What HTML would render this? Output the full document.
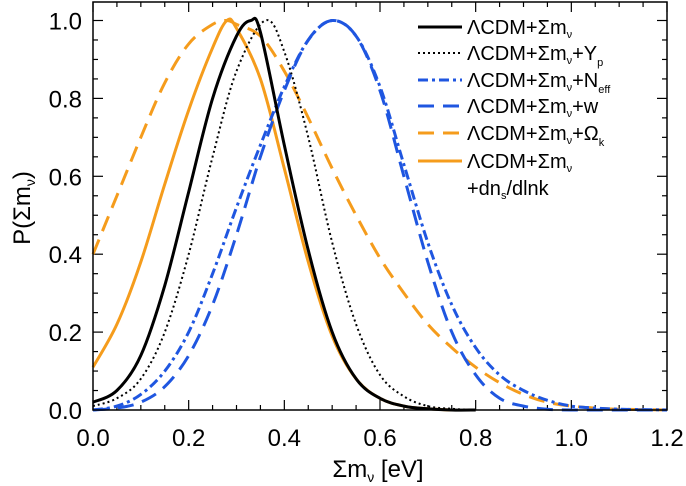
<!DOCTYPE html>
<html><head><meta charset="utf-8"><style>
body{margin:0;background:#fff;}
svg{display:block;font-family:"Liberation Sans",sans-serif;}
</style></head><body>
<svg id="chart" width="686" height="486" viewBox="0 0 686 486">
<g font-family="Liberation Sans, sans-serif" font-size="20">
 <line x1="418" y1="27" x2="462" y2="27" stroke="#000" stroke-width="3"/>
 <text x="467" y="34">ΛCDM+Σm<tspan font-size="11" dy="4">ν</tspan></text>
 <line x1="418" y1="53" x2="462" y2="53" stroke="#000" stroke-width="2" stroke-dasharray="2,3"/>
 <text x="467" y="60">ΛCDM+Σm<tspan font-size="11" dy="4">ν</tspan><tspan dy="-4">+Y</tspan><tspan font-size="11" dy="6">p</tspan></text>
 <line x1="418" y1="80" x2="462" y2="80" stroke="#1f56e0" stroke-width="3" stroke-dasharray="10,4,3,4"/>
 <text x="467" y="87">ΛCDM+Σm<tspan font-size="11" dy="4">ν</tspan><tspan dy="-4">+N</tspan><tspan font-size="11" dy="6">eff</tspan></text>
 <line x1="418" y1="106" x2="462" y2="106" stroke="#1f56e0" stroke-width="3" stroke-dasharray="16,9"/>
 <text x="467" y="113">ΛCDM+Σm<tspan font-size="11" dy="4">ν</tspan><tspan dy="-4">+w</tspan></text>
 <line x1="418" y1="133" x2="462" y2="133" stroke="#f59c1c" stroke-width="3" stroke-dasharray="16,9"/>
 <text x="467" y="140">ΛCDM+Σm<tspan font-size="11" dy="4">ν</tspan><tspan dy="-4">+Ω</tspan><tspan font-size="11" dy="6">k</tspan></text>
 <line x1="418" y1="161" x2="462" y2="161" stroke="#f59c1c" stroke-width="3"/>
 <text x="467" y="168">ΛCDM+Σm<tspan font-size="11" dy="4">ν</tspan></text>
 <text x="467" y="195">+dn<tspan font-size="11" dy="4">s</tspan><tspan dy="-4">/dlnk</tspan></text>
</g>
<text x="378" y="477" font-size="24" text-anchor="middle">Σm<tspan font-size="14" dy="5">ν</tspan><tspan dy="-5"> [eV]</tspan></text>
<text transform="translate(30,208) rotate(-90)" font-size="24" text-anchor="middle">P(Σm<tspan font-size="14" dy="5">ν</tspan><tspan dy="-5">)</tspan></text>
</svg>
<script>
const xsLcdm=[0,0.05,0.1,0.15,0.2,0.25,0.3,0.33,0.35,0.4,0.45,0.5,0.55,0.6,0.65,0.7,0.75,0.8];
const lcdm=[0.02,0.05,0.14,0.32,0.56,0.8,0.96,1.0,0.97,0.68,0.41,0.2,0.08,0.03,0.01,0.003,0,0];
const xsYp=[0,0.05,0.1,0.15,0.2,0.25,0.3,0.36,0.4,0.45,0.5,0.55,0.6,0.65,0.7,0.75,0.8];
const lcdmYp=[0.01,0.03,0.08,0.2,0.4,0.65,0.87,1.0,0.92,0.7,0.43,0.22,0.09,0.035,0.01,0.003,0];
const xsBlue=[0,0.05,0.1,0.15,0.2,0.25,0.3,0.35,0.4,0.45,0.5,0.55,0.6,0.65,0.7,0.75,0.8,0.85,0.9,0.95,1.0,1.05,1.1,1.15,1.2];
const lcdmNeff=[0,0.01,0.04,0.1,0.2,0.35,0.52,0.68,0.83,0.95,1.0,0.96,0.83,0.63,0.43,0.27,0.16,0.09,0.05,0.025,0.01,0.005,0.002,0.001,0];
const lcdmW=[0,0.005,0.02,0.06,0.14,0.27,0.45,0.65,0.82,0.95,1.0,0.96,0.82,0.6,0.38,0.2,0.09,0.03,0.01,0.002,0,0,0,0,0];
const xsOk=[0,0.05,0.1,0.15,0.2,0.25,0.28,0.3,0.35,0.4,0.45,0.5,0.55,0.6,0.65,0.7,0.75,0.8,0.85,0.9,0.95,1.0,1.05,1.1,1.2];
const lcdmOk=[0.4,0.55,0.7,0.84,0.94,0.99,1.0,0.99,0.96,0.87,0.75,0.62,0.5,0.39,0.3,0.22,0.16,0.11,0.07,0.04,0.02,0.01,0.005,0.002,0];
const xsRun=[0,0.05,0.1,0.15,0.2,0.25,0.28,0.3,0.35,0.4,0.45,0.5,0.55,0.6,0.65,0.7,0.75];
const lcdmRun=[0.11,0.22,0.38,0.58,0.77,0.93,1.0,0.98,0.85,0.62,0.38,0.19,0.08,0.03,0.01,0.003,0];
const xTicks=["0.0","0.2","0.4","0.6","0.8","1.0","1.2"];
const yTicks=["0.0","0.2","0.4","0.6","0.8","1.0"];

const L=93,R=667,T=2,B=410,Y1=20.5;
const X=v=>L+v/1.2*(R-L);
const Y=v=>B-v*(B-Y1);
const svg=document.getElementById('chart');
const NS="http://www.w3.org/2000/svg";
function mk(tag,attrs){const e=document.createElementNS(NS,tag);for(const k in attrs)e.setAttribute(k,attrs[k]);svg.appendChild(e);return e;}

for(let i=0;i<=24;i++){const v=i*0.05,x=X(v),len=(i%4===0)?10:5;
 const t1=mk('line',{x1:x,x2:x,y1:B,y2:B-len,stroke:'#000','stroke-width':1.2});
 
 
 const t2=mk('line',{x1:x,x2:x,y1:T,y2:T+len,stroke:'#000','stroke-width':1.2});
 
 }
for(let i=0;i<=21;i++){const v=i*0.05,y=Y(v),len=(i%4===0)?10:5;
 if(y<T)continue;
 const t1=mk('line',{x1:L,x2:L+len,y1:y,y2:y,stroke:'#000','stroke-width':1.2});
 
 
 const t2=mk('line',{x1:R,x2:R-len,y1:y,y2:y,stroke:'#000','stroke-width':1.2});
 
 }
xTicks.forEach((s,i)=>{const t=mk('text',{x:X(i*0.2),y:446,'font-size':24,'text-anchor':'middle'});t.textContent=s;
 
 });
yTicks.forEach((s,i)=>{const t=mk('text',{x:82,y:Y(i*0.2)+9,'font-size':24,'text-anchor':'end'});t.textContent=s;
 
 });

function smooth(pts){let d='M'+pts[0][0].toFixed(1)+','+pts[0][1].toFixed(1);
 for(let i=0;i<pts.length-1;i++){const p0=pts[Math.max(i-1,0)],p1=pts[i],p2=pts[i+1],p3=pts[Math.min(i+2,pts.length-1)];
  const c1=[p1[0]+(p2[0]-p0[0])/6,p1[1]+(p2[1]-p0[1])/6],c2=[p2[0]-(p3[0]-p1[0])/6,p2[1]-(p3[1]-p1[1])/6];
  d+='C'+c1.map(v=>v.toFixed(1)).join(',')+' '+c2.map(v=>v.toFixed(1)).join(',')+' '+p2[0].toFixed(1)+','+p2[1].toFixed(1);}
 return d;}
const series=[
 {x:xsRun,d:lcdmRun,c:'#f59c1c',w:3,da:'',n:'series-running'},
 {x:xsOk,d:lcdmOk,c:'#f59c1c',w:3,da:'16,9',n:'series-omega-k'},
 {x:xsBlue,d:lcdmW,c:'#1f56e0',w:3,da:'16,9',n:'series-w'},
 {x:xsBlue,d:lcdmNeff,c:'#1f56e0',w:3,da:'10,4,3,4',n:'series-neff'},
 {x:xsYp,d:lcdmYp,c:'#000',w:2,da:'2,3',n:'series-yp'},
 {x:xsLcdm,d:lcdm,c:'#000',w:3,da:'',n:'series-lcdm'}];
series.forEach(s=>{const pts=s.x.map((x,i)=>[X(x),Y(s.d[i])]);
 const e=mk('path',{d:smooth(pts),fill:'none',stroke:s.c,'stroke-width':s.w,'stroke-dasharray':s.da,'stroke-linejoin':'round'});
 
 });

const box=mk('rect',{x:L,y:T,width:R-L,height:B-T,fill:'none',stroke:'#000','stroke-width':1.5});


</script>
</body></html>
